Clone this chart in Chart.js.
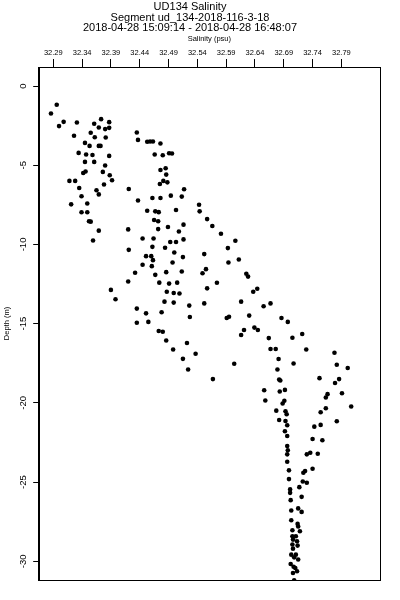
<!DOCTYPE html>
<html lang="en">
<head>
    <meta charset="UTF-8">
    <title>UD134 Salinity</title>
    <script src="https://cdn.jsdelivr.net/npm/chart.js"></script>
    <style>
        body { margin: 0; background: #fff; }
        #wrap { width: 400px; height: 600px; }
    </style>
</head>
<body>
    <div id="wrap"><canvas id="salChart" width="400" height="600"></canvas></div>

    <script>
        // --- chart text ---
        const titleLines = [
            'UD134 Salinity',
            'Segment ud_134-2018-116-3-18',
            '2018-04-28 15:09:14 - 2018-04-28 16:48:07'
        ];
        const xTitle = 'Salinity (psu)';
        const yTitle = 'Depth (m)';

        // --- tick values ---
        const xTickValues = [32.29, 32.34, 32.39, 32.44, 32.49, 32.54, 32.59, 32.64, 32.69, 32.74, 32.79];
        const yTickValues = [0, -5, -10, -15, -20, -25, -30];

        // --- samples ---
        const salinity = [
            32.286, 32.296, 32.300, 32.308, 32.331, 32.326, 32.334, 32.345, 32.347, 32.345,
            32.358, 32.361, 32.355, 32.361, 32.369, 32.362, 32.373, 32.380, 32.387, 32.387,
            32.381, 32.353, 32.369, 32.372, 32.387, 32.380, 32.376, 32.388, 32.392, 32.378,
            32.365, 32.369, 32.346, 32.342, 32.328, 32.318, 32.335, 32.339, 32.321, 32.349,
            32.339, 32.349, 32.352, 32.355, 32.369, 32.421, 32.435, 32.437, 32.453, 32.458,
            32.463, 32.476, 32.466, 32.480, 32.491, 32.496, 32.476, 32.485, 32.486, 32.475,
            32.481, 32.488, 32.517, 32.437, 32.462, 32.476, 32.513, 32.453, 32.467, 32.473,
            32.494, 32.503, 32.465, 32.472, 32.472, 32.489, 32.516, 32.508, 32.420, 32.445,
            32.464, 32.516, 32.543, 32.544,
            32.557, 32.566, 32.581, 32.606, 32.593, 32.552, 32.612,
            32.359, 32.421, 32.462, 32.484, 32.500, 32.493, 32.503, 32.515, 32.451, 32.460,
            32.463, 32.445, 32.461, 32.497, 32.432, 32.467, 32.486, 32.513, 32.420, 32.474,
            32.491, 32.505, 32.390, 32.398, 32.487, 32.499, 32.509, 32.483, 32.499, 32.526,
            32.527, 32.435, 32.451, 32.478, 32.435, 32.455, 32.473, 32.480, 32.486, 32.498,
            32.522, 32.537, 32.515, 32.524,
            32.594, 32.549, 32.555, 32.625, 32.628, 32.574, 32.557, 32.637, 32.644, 32.552,
            32.616, 32.655, 32.667, 32.591, 32.595, 32.630, 32.686, 32.697, 32.621, 32.616,
            32.639, 32.645, 32.664, 32.705, 32.722, 32.667, 32.676, 32.729, 32.778, 32.681,
            32.604, 32.707, 32.782, 32.801, 32.567, 32.679, 32.682, 32.684, 32.752, 32.786,
            32.779, 32.656, 32.683, 32.692, 32.791, 32.766, 32.763, 32.658, 32.688, 32.691,
            32.807, 32.763, 32.677, 32.693, 32.695, 32.754, 32.682, 32.693, 32.782, 32.696,
            32.743, 32.754, 32.692, 32.696, 32.740, 32.757,
            32.696, 32.697, 32.696, 32.730, 32.736, 32.749, 32.696, 32.699, 32.740, 32.724,
            32.727, 32.699, 32.723, 32.730, 32.701, 32.717, 32.701, 32.721, 32.702, 32.703,
            32.715, 32.721, 32.703, 32.714, 32.715, 32.718, 32.705, 32.705, 32.706, 32.705,
            32.706, 32.711, 32.713, 32.714, 32.703, 32.711, 32.715, 32.708, 32.702, 32.707,
            32.710, 32.713, 32.706, 32.708
        ];
        const depth = [
            -1.73, -1.18, -2.53, -2.26, -2.30, -3.14, -4.22, -3.59, -4.32, -4.79,
            -4.35, -4.79, -2.95, -2.38, -2.62, -3.23, -2.09, -2.72, -2.28, -2.64,
            -3.25, -3.78, -3.78, -3.78, -4.41, -5.02, -5.42, -5.63, -5.95, -6.22,
            -6.58, -6.84, -5.40, -5.49, -5.99, -5.99, -6.44, -6.96, -7.47, -7.42,
            -7.97, -7.97, -8.54, -8.56, -9.13, -6.50, -2.93, -3.40, -3.52, -3.50,
            -3.50, -3.63, -4.32, -4.37, -4.24, -4.26, -5.30, -5.19, -5.59, -6.18,
            -5.99, -6.08, -6.52, -7.23, -7.07, -7.07, -6.98, -7.87, -7.91, -7.96,
            -6.92, -7.83, -8.46, -8.54, -9.03, -8.90, -8.75, -9.18, -9.05, -9.62,
            -9.62, -9.68, -7.49, -7.91,
            -8.40, -8.84, -9.32, -9.77, -10.23, -10.61, -10.95,
            -9.75, -10.34, -10.15, -10.21, -10.51, -9.85, -9.85, -10.80, -10.74, -10.74,
            -10.99, -11.28, -11.37, -11.14, -11.79, -11.92, -11.75, -11.71, -12.34, -12.41,
            -12.47, -12.41, -12.87, -13.46, -12.99, -13.06, -13.10, -13.61, -13.67, -13.86,
            -14.58, -14.05, -14.35, -14.28, -14.94, -14.89, -15.46, -15.51, -16.06, -16.63,
            -16.22, -16.90, -17.22, -17.89,
            -11.14, -11.82, -11.56, -11.85, -12.03, -12.42, -12.77, -12.99, -12.80, -13.72,
            -13.61, -13.90, -13.72, -14.64, -14.56, -14.49, -14.64, -14.89, -15.40, -15.72,
            -15.25, -15.40, -15.91, -15.89, -15.65, -16.60, -16.60, -16.63, -16.84, -17.23,
            -17.53, -17.51, -17.59, -17.80, -18.50, -17.89, -18.53, -18.59, -18.44, -18.50,
            -18.75, -19.20, -19.28, -19.18, -19.39, -19.45, -19.66, -19.85, -20.04, -19.87,
            -20.23, -20.34, -20.49, -20.53, -20.72, -20.59, -21.08, -21.14, -21.16, -21.41,
            -21.50, -21.39, -21.79, -22.09, -22.28, -22.36,
            -22.72, -22.99, -23.25, -23.25, -23.15, -23.21, -23.72, -24.26, -24.16, -24.41,
            -24.30, -24.81, -24.96, -25.04, -25.46, -25.32, -25.68, -25.93, -26.14, -26.79,
            -26.66, -26.88, -27.41, -27.64, -27.80, -28.10, -28.04, -28.42, -28.63, -28.94,
            -29.20, -28.42, -28.73, -29.01, -29.58, -29.58, -29.89, -29.75, -30.17, -30.34,
            -30.42, -30.63, -30.74, -31.20
        ];

        const points = salinity.map((s, i) => ({ x: s, y: depth[i] }));

        // box around the plot area (R style)
        const frame = {
            id: 'frame',
            afterDraw(chart) {
                const a = chart.chartArea;
                const c = chart.ctx;
                c.save();
                c.strokeStyle = '#000';
                c.lineWidth = 1;
                c.strokeRect(Math.round(a.left) + 0.5, Math.round(a.top) + 0.5,
                    Math.round(a.right - a.left), Math.round(a.bottom - a.top));
                c.restore();
            }
        };

        Chart.defaults.color = '#000';
        Chart.defaults.font.family = '"Liberation Sans", Arial, sans-serif';

        const ctx = document.getElementById('salChart').getContext('2d');
        new Chart(ctx, {
            type: 'scatter',
            data: {
                datasets: [{
                    data: points,
                    backgroundColor: '#000',
                    borderColor: '#000',
                    borderWidth: 0,
                    pointRadius: 2.3
                }]
            },
            options: {
                responsive: false,
                animation: false,
                layout: { padding: { top: 0, left: 0, right: 20, bottom: 20 } },
                plugins: {
                    legend: { display: false },
                    tooltip: { enabled: false },
                    title: {
                        display: true,
                        text: titleLines,
                        color: '#000',
                        font: { size: 11, weight: 'normal', lineHeight: 0.97 },
                        padding: { top: 1.5, bottom: 0 }
                    }
                },
                scales: {
                    x: {
                        type: 'linear',
                        position: 'top',
                        min: 32.2647,
                        max: 32.857,
                        afterBuildTicks: (s) => { s.ticks = xTickValues.map(v => ({ value: v })); },
                        afterFit: (s) => { s.height = 33.5; },
                        ticks: {
                            autoSkip: false,
                            maxRotation: 0,
                            padding: 1.5,
                            font: { size: 7.5 },
                            callback: (v) => v.toFixed(2)
                        },
                        grid: { drawOnChartArea: false, tickLength: 8, color: '#000' },
                        border: { color: '#000' },
                        title: { display: true, text: xTitle, font: { size: 7.5 }, padding: { top: 0.5, bottom: 0 } }
                    },
                    y: {
                        type: 'linear',
                        position: 'left',
                        min: -31.18,
                        max: 1.2,
                        afterBuildTicks: (s) => { s.ticks = yTickValues.map(v => ({ value: v })); },
                        afterFit: (s) => { s.width = 38.7; },
                        ticks: {
                            autoSkip: false,
                            minRotation: 90,
                            maxRotation: 90,
                            crossAlign: 'center',
                            padding: 3,
                            font: { size: 9.5 },
                            callback: (v) => String(v)
                        },
                        grid: { drawOnChartArea: false, tickLength: 5.5, color: '#000' },
                        border: { color: '#000' },
                        title: { display: true, text: yTitle, font: { size: 7.5 }, padding: { top: 2.5, bottom: 0 } }
                    }
                }
            },
            plugins: [frame]
        });
    </script>
</body>
</html>
